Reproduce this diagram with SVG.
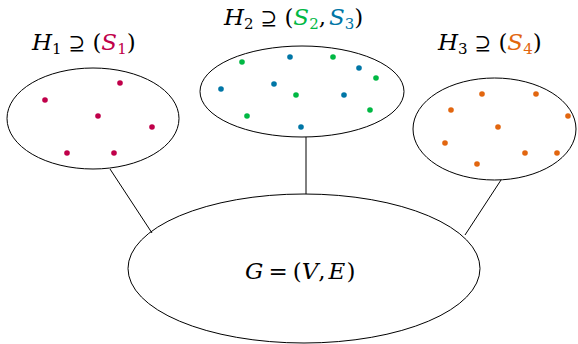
<svg xmlns="http://www.w3.org/2000/svg" width="578" height="344" viewBox="0 0 578 344">
<style>
.shape{fill:none;stroke:#000;stroke-width:1}
.edge{stroke:#000;stroke-width:1;fill:none}
.t{font-family:'DejaVu Serif',serif;font-size:23px;fill:#000}
.it{font-style:italic}
.sub{font-size:15px}
.op{font-size:20px}
.c1{fill:#c0004a}
.c2{fill:#00b843}
.c3{fill:#0076a6}
.c4{fill:#e2660f}
</style>
<rect width="578" height="344" fill="#fff"/>
<g id="connectors">
<line class="edge" x1="110" y1="169" x2="152" y2="233"/>
<line class="edge" x1="306" y1="137" x2="306" y2="194"/>
<line class="edge" x1="501" y1="180" x2="465" y2="235"/>
</g>
<g id="G">
<ellipse class="shape" cx="304" cy="268.5" rx="176" ry="74.5"/>
<text class="t" x="245" y="279"><tspan class="it">G</tspan><tspan dx="5">=</tspan><tspan dx="5">(</tspan><tspan class="it">V</tspan><tspan>,</tspan><tspan dx="3" class="it">E</tspan><tspan dx="1">)</tspan></text>
</g>
<g id="H1">
<ellipse class="shape" cx="93" cy="118.5" rx="86" ry="50.5"/>
<text class="t" x="32" y="50"><tspan class="it">H</tspan><tspan class="sub" dy="4">1</tspan><tspan class="op" dx="7" dy="-4">⊇</tspan><tspan dx="7">(</tspan><tspan class="it c1">S</tspan><tspan class="sub c1" dy="4">1</tspan><tspan dy="-4">)</tspan></text>
<g class="c1">
<circle cx="45" cy="100" r="2.8"/><circle cx="120" cy="83" r="2.8"/><circle cx="98" cy="116" r="2.8"/>
<circle cx="152" cy="127" r="2.8"/><circle cx="67" cy="153" r="2.8"/><circle cx="114" cy="153" r="2.8"/>
</g>
</g>
<g id="H2">
<ellipse class="shape" cx="302" cy="91.5" rx="102" ry="45.5"/>
<text class="t" x="224" y="25"><tspan class="it">H</tspan><tspan class="sub" dy="4">2</tspan><tspan class="op" dx="7" dy="-4">⊇</tspan><tspan dx="7">(</tspan><tspan class="it c2">S</tspan><tspan class="sub c2" dy="4">2</tspan><tspan dy="-4">,</tspan><tspan dx="3" class="it c3">S</tspan><tspan class="sub c3" dy="4">3</tspan><tspan dy="-4">)</tspan></text>
<g class="c2">
<circle cx="242" cy="62" r="2.8"/><circle cx="333" cy="57" r="2.8"/><circle cx="376" cy="78" r="2.8"/>
<circle cx="296" cy="95" r="2.8"/><circle cx="370" cy="110" r="2.8"/><circle cx="247" cy="116" r="2.8"/>
</g>
<g class="c3">
<circle cx="290" cy="57" r="2.8"/><circle cx="359" cy="68" r="2.8"/><circle cx="221" cy="89" r="2.8"/>
<circle cx="274" cy="84" r="2.8"/><circle cx="344" cy="95" r="2.8"/><circle cx="301" cy="127" r="2.8"/>
</g>
</g>
<g id="H3">
<ellipse class="shape" cx="494.5" cy="129" rx="81.5" ry="51"/>
<text class="t" x="438" y="50"><tspan class="it">H</tspan><tspan class="sub" dy="4">3</tspan><tspan class="op" dx="7" dy="-4">⊇</tspan><tspan dx="7">(</tspan><tspan class="it c4">S</tspan><tspan class="sub c4" dy="4">4</tspan><tspan dy="-4">)</tspan></text>
<g class="c4">
<circle cx="482" cy="94" r="2.8"/><circle cx="536" cy="94" r="2.8"/><circle cx="451" cy="110" r="2.8"/>
<circle cx="568" cy="116" r="2.8"/><circle cx="498" cy="127" r="2.8"/><circle cx="445" cy="143" r="2.8"/>
<circle cx="525" cy="153" r="2.8"/><circle cx="557" cy="153" r="2.8"/><circle cx="477" cy="164" r="2.8"/>
</g>
</g>
</svg>
